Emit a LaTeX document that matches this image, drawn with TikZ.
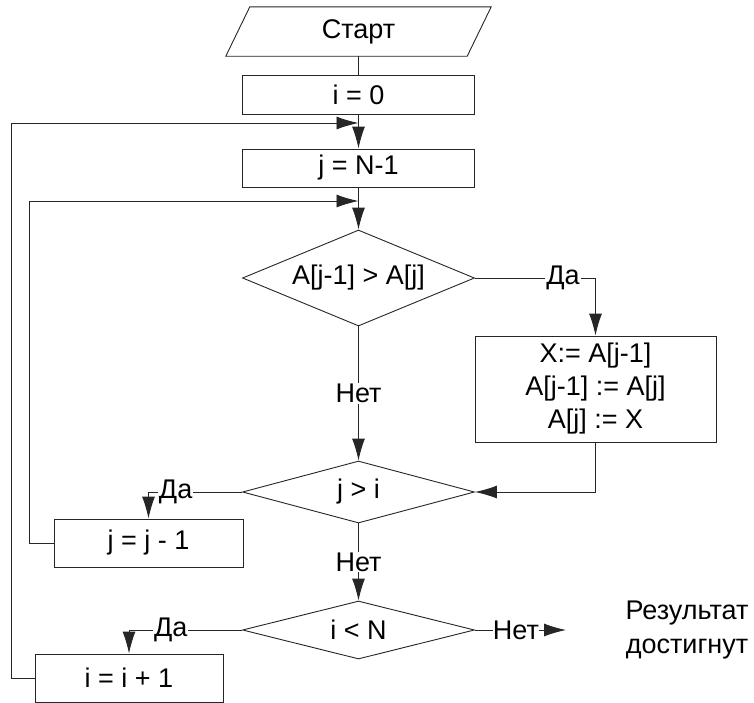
\documentclass[tikz,border=0pt]{standalone}
\usepackage{fontspec}
\setmainfont{Liberation Sans}
\usetikzlibrary{shapes.geometric,arrows.meta}
\begin{document}
\begin{tikzpicture}[x=1pt,y=-1pt,
  every node/.style={font=\fontsize{27}{33}\selectfont, text=black},
  ln/.style={draw=black!85, line width=0.9pt},
  arr/.style={ln, -{Latex[length=22pt,width=13pt]}},
  procbox/.style={ln, rectangle, inner sep=0pt, align=center},
  decide/.style={ln, diamond, inner sep=0pt},
  lbl/.style={fill=white, inner sep=1pt}]
\useasboundingbox (0,0) rectangle (754,702);
\fill[white] (0,0) rectangle (754,702);
% start (parallelogram)
\node[inner sep=0pt, minimum width=241pt, minimum height=49pt] (start) at (358.5,31.5) {Старт};
\draw[ln] ([xshift=12pt]start.north west) -- ([xshift=12pt]start.north east)
  -- ([xshift=-12pt]start.south east) -- ([xshift=-12pt]start.south west) -- cycle;
\node[procbox, minimum width=232pt, minimum height=39pt] (b0) at (358.5,94.5) {i = 0};
\node[procbox, minimum width=232pt, minimum height=38pt] (bj) at (358.5,168) {j = N-1};
\node[decide, minimum width=232pt, minimum height=96pt, aspect=2.4] (d1) at (358.5,278) {A[j-1] > A[j]};
\node[procbox, minimum width=241pt, minimum height=106pt] (bs) at (595.5,389) {X:= A[j-1]\\A[j-1] := A[j]\\A[j] := X};
\node[decide, minimum width=232pt, minimum height=62pt, aspect=3.7] (d2) at (358.5,492) {j > i};
\node[procbox, minimum width=189pt, minimum height=48pt] (bj1) at (148.5,543) {j = j - 1};
\node[decide, minimum width=232pt, minimum height=58pt, aspect=4] (d3) at (358.5,630) {i < N};
\node[procbox, minimum width=188pt, minimum height=48pt] (bi1) at (129,678) {i = i + 1};
\node[align=center] (res) at (687,630) {Результат\\достигнут};
\coordinate (m1) at (358.5,123);
\coordinate (m2) at (358.5,201);
\coordinate (l1) at (11,123);
\coordinate (l2) at (29,201);
\coordinate (e3) at (566,630);
% connectors
\draw[ln] (start.south) -- (b0.north);
\draw[arr] (b0.south) -- (bj.north);
\draw[arr] (bj.south) -- (d1.north);
\draw[arr] (d1.east) -- node[lbl, pos=0.73] {Да} (bs.north |- d1.east) -- (bs.north);
\draw[arr] (d1.south) -- node[lbl] {Нет} (d2.north);
\draw[arr] (bs.south) -- (bs.south |- d2.east) -- (d2.east);
\draw[arr] (d2.west) -- node[lbl, pos=0.71] {Да} (bj1.north |- d2.west) -- (bj1.north);
\draw[arr] (d2.south) -- node[lbl] {Нет} (d3.north);
\draw[arr] (d3.west) -- node[lbl, pos=0.63] {Да} (bi1.north |- d3.west) -- (bi1.north);
\draw[arr] (d3.east) -- node[lbl, pos=0.45, inner sep=0pt] {Нет} (e3);
\draw[arr] (bj1.west) -| (l2) -- (m2);
\draw[arr] (bi1.west) -| (l1) -- (m1);
\end{tikzpicture}
\end{document}
